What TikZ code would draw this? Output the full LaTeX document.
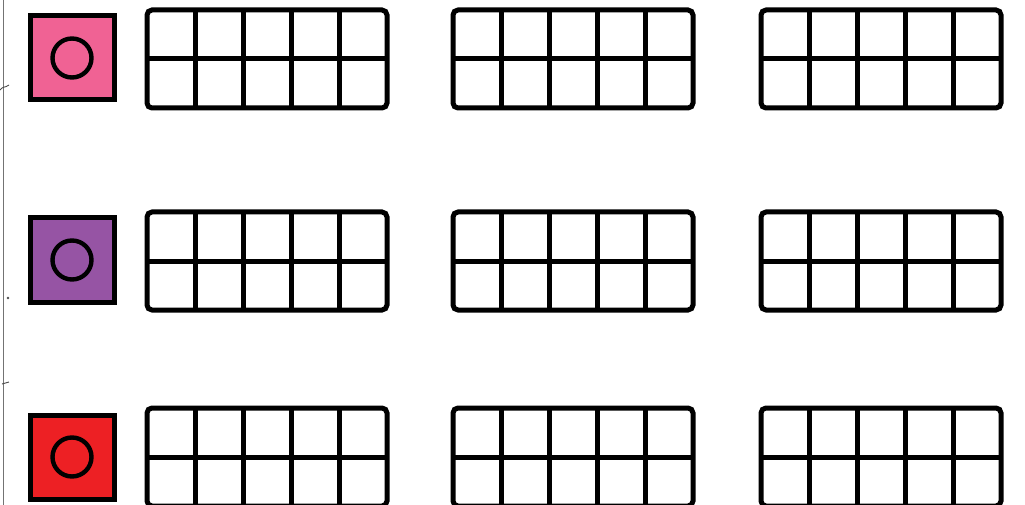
\documentclass[tikz,border=0pt]{standalone}
\begin{document}
\begin{tikzpicture}[x=1pt,y=-1pt,
  framebox/.style={line width=5pt, rounded corners=5pt},
  gridline/.style={line width=5pt},
  swatch/.style={draw=black, line width=5pt, minimum size=84pt, inner sep=0pt},
  ring/.style={draw=black, line width=4.4pt, circle, minimum size=39pt, inner sep=0pt}]
\definecolor{cpink}{RGB}{240,98,148}
\definecolor{cpurple}{RGB}{150,84,164}
\definecolor{cred}{RGB}{237,32,36}
\useasboundingbox (0,0) rectangle (1025,505);
\clip (0,0) rectangle (1025,505);
% left page edge
\draw[black!55, line width=1pt] (3,0) -- (3,505);
\draw[black!70, line width=0.9pt] (0,90) .. controls (3,86) and (5,88) .. (9,85);
\fill[black!70] (8,298) circle (1.4pt);
\draw[black!70, line width=0.9pt] (2,384) -- (9,382);
% swatches
\foreach \c/\y/\n in {cpink/58/a, cpurple/260/b, cred/457/c}{
  \node[swatch, fill=\c] (sq\n) at (72,\y) {};
  \node[ring] (ci\n) at (sq\n.center) {};
}
% ten frames
\foreach \yt/\r in {10/1, 212/2, 408/3}{
  \foreach \xl/\k in {147/1, 453/2, 761/3}{
    \pgfmathsetmacro{\yb}{\yt+98}
    \pgfmathsetmacro{\ym}{\yt+49}
    \draw[framebox] (\xl,\yt) rectangle (\xl+240,\yb);
    \draw[gridline] (\xl,\ym) -- (\xl+240,\ym);
    \foreach \i in {1,2,3,4}{
      \draw[gridline] (\xl+48*\i,\yt) -- (\xl+48*\i,\yb);
    }
  }
}
\end{tikzpicture}
\end{document}
